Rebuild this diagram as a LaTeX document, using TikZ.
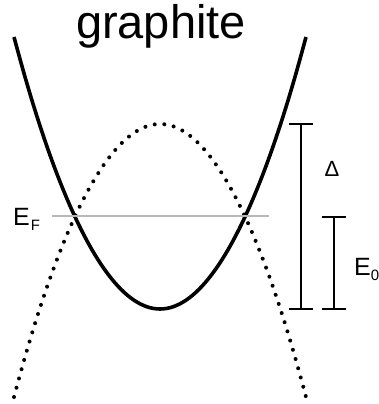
\documentclass[tikz,border=0pt]{standalone}
\usepackage{fontspec}
\setmainfont{Liberation Sans}
\usetikzlibrary{positioning}
\newcommand{\lowsub}[1]{\raisebox{-5pt}{\fontsize{15}{15}\selectfont #1}}

\begin{document}
\begin{tikzpicture}[x=1pt,y=-1pt,
band/.style={line width=3.6pt},
hole/.style={line width=4pt,line cap=round,dash pattern=on 0pt off 9.6pt},
fermi/.style={line width=2.8pt,black!28},
bar/.style={line width=2.6pt},
lbl/.style={inner sep=0pt,font=\fontsize{25}{25}\selectfont}]
\useasboundingbox (0,0) rectangle (379,404);
\node[inner sep=0pt,anchor=base,font=\fontsize{47}{47}\selectfont] (title) at (161,39) {graphite};
% bands
\draw[band] (14,37) parabola bend (160,309) (306,37);
\draw[hole] (14,397) parabola bend (160,124) (306,397);
% Fermi level
\draw[fermi] (52,216) coordinate (fl) -- (269,216) coordinate (fr);
\node[lbl,anchor=base west] (ef) at (13,225) {E\kern1pt\lowsub{F}};
% gaps
\coordinate (dtop) at (301,124);
\coordinate (dbot) at (301,309);
\coordinate (etop) at (334,217);
\coordinate (ebot) at (334,309);
\draw[bar] (dtop) -- (dbot);
\draw[bar] ([xshift=-12pt]dtop) -- ([xshift=12pt]dtop);
\draw[bar] ([xshift=-12pt]dbot) -- ([xshift=12pt]dbot);
\draw[bar] (etop) -- (ebot);
\draw[bar] ([xshift=-12pt]etop) -- ([xshift=12pt]etop);
\draw[bar] ([xshift=-12pt]ebot) -- ([xshift=12pt]ebot);
\node[lbl,anchor=base,font=\fontsize{22}{22}\selectfont] (gap) at (332,176) {Δ};
\node[lbl,anchor=base west] (e0) at (354,275) {E\lowsub{0}};
\end{tikzpicture}
\end{document}
